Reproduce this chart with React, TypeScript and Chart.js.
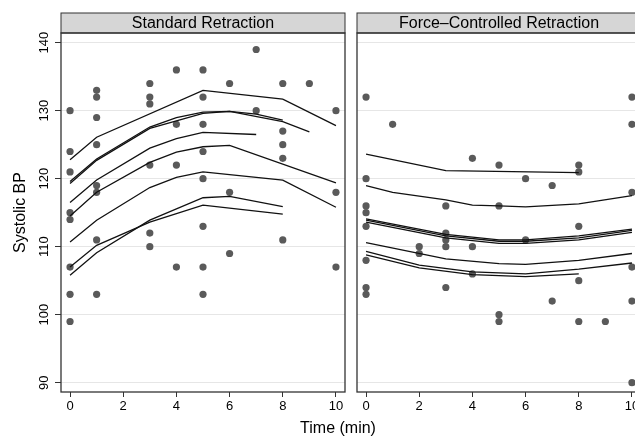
import React, { useEffect, useRef } from "react";
import { Chart, registerables } from "chart.js";
Chart.register(...registerables);

const panelTitles = ["Standard Retraction", "Force\u2013Controlled Retraction"];
const xTicks = [0, 2, 4, 6, 8, 10];
const yTicks = [90, 100, 110, 120, 130, 140];
const yTitle = "Systolic BP";
const xTitle = "Time (min)";

// Standard retraction observations
const stdTimes = [
  0, 0, 0, 0, 0, 0, 0, 0,
  1, 1, 1, 1, 1, 1, 1, 1,
  3, 3, 3, 3, 3, 3,
  4, 4, 4, 4,
  5, 5, 5, 5, 5, 5, 5, 5,
  6, 6, 6,
  7, 7,
  8, 8, 8, 8, 8,
  9,
  10, 10, 10,
];
const stdBP = [
  130, 124, 121, 115, 114, 107, 103, 99,
  133, 132, 129, 125, 119, 118, 111, 103,
  134, 132, 131, 122, 112, 110,
  136, 128, 122, 107,
  136, 132, 128, 124, 120, 113, 107, 103,
  134, 118, 109,
  139, 130,
  134, 127, 125, 123, 111,
  134,
  130, 118, 107,
];

// Force-controlled retraction observations
const fcTimes = [
  0, 0, 0, 0, 0, 0, 0, 0,
  1,
  2, 2,
  3, 3, 3, 3, 3,
  4, 4, 4,
  5, 5, 5, 5,
  6, 6,
  7, 7,
  8, 8, 8, 8, 8,
  9,
  10, 10, 10, 10, 10, 10,
];
const fcBP = [
  132, 120, 116, 115, 113, 108, 104, 103,
  128,
  110, 109,
  116, 112, 111, 110, 104,
  123, 110, 106,
  122, 116, 100, 99,
  120, 111,
  119, 102,
  122, 121, 113, 105, 99,
  99,
  132, 128, 118, 107, 102, 90,
];

// Fitted subject curves [time, BP]
const stdFit1 = [[0, 122.8], [1, 126.1], [5, 133.0], [8, 131.7], [10, 127.8]];
const stdFit2 = [[0, 119.6], [1, 122.9], [3, 127.6], [4, 129.0], [5, 129.8], [6, 129.9], [8, 128.4], [9, 126.9]];
const stdFit3 = [[0, 119.3], [1, 122.7], [3, 127.4], [5, 129.6], [6, 129.9], [7, 129.5], [8, 128.6]];
const stdFit4 = [[0, 116.5], [1, 119.8], [3, 124.5], [4, 125.9], [5, 126.8], [7, 126.5]];
const stdFit5 = [[0, 114.5], [1, 118.0], [3, 122.4], [4, 123.9], [5, 124.7], [6, 124.9], [10, 119.4]];
const stdFit6 = [[0, 110.7], [1, 113.9], [3, 118.7], [4, 120.2], [5, 121.0], [8, 119.8], [10, 115.8]];
const stdFit7 = [[0, 107.0], [1, 110.2], [3, 113.6], [5, 116.1], [8, 114.8]];
const stdFit8 = [[0, 105.8], [1, 109.1], [3, 113.9], [5, 117.2], [6, 117.4], [8, 115.9]];

const fcFit1 = [[0, 123.6], [3, 121.2], [8, 120.9]];
const fcFit2 = [[0, 119.0], [1, 118.0], [3, 116.9], [4, 116.1], [5, 116.0], [6, 115.85], [8, 116.3], [10, 117.5]];
const fcFit3 = [[0, 114.1], [3, 111.8], [5, 111.0], [6, 111.0], [8, 111.6], [10, 112.6]];
const fcFit4 = [[0, 113.9], [3, 111.6], [5, 110.8], [6, 110.8], [8, 111.3], [10, 112.4]];
const fcFit5 = [[0, 113.6], [3, 111.3], [5, 110.5], [6, 110.5], [8, 111.0], [10, 112.1]];
const fcFit6 = [[0, 110.6], [3, 108.2], [5, 107.5], [6, 107.4], [8, 108.0], [10, 109.0]];
const fcFit7 = [[0, 109.3], [2, 107.3], [4, 106.3], [6, 106.0], [8, 106.7], [10, 107.6]];
const fcFit8 = [[0, 108.8], [2, 106.9], [4, 105.9], [6, 105.6], [8, 106.0]];

const stdFits = [stdFit1, stdFit2, stdFit3, stdFit4, stdFit5, stdFit6, stdFit7, stdFit8];
const fcFits = [fcFit1, fcFit2, fcFit3, fcFit4, fcFit5, fcFit6, fcFit7, fcFit8];

const FONT = '"Liberation Sans", Arial, Helvetica, sans-serif';

const panelPlugin = {
  id: "panel",
  afterDraw(chart: any, _args: any, opts: any) {
    const { ctx, chartArea: a } = chart;
    ctx.save();
    // strip
    const stripTop = 13;
    ctx.fillStyle = "#d6d6d6";
    ctx.fillRect(a.left, stripTop, a.right - a.left, a.top - stripTop);
    ctx.strokeStyle = "#333";
    ctx.lineWidth = 1;
    ctx.strokeRect(a.left, stripTop, a.right - a.left, a.top - stripTop);
    ctx.fillStyle = "#000";
    ctx.font = `16px ${FONT}`;
    ctx.textAlign = "center";
    ctx.textBaseline = "alphabetic";
    ctx.fillText(opts.title, (a.left + a.right) / 2, a.top - 5);
    // frame
    ctx.lineWidth = 1.3;
    ctx.strokeStyle = "#333";
    ctx.strokeRect(a.left, a.top, a.right - a.left, a.bottom - a.top);
    if (opts.yLabels) {
      const ys = chart.scales.y;
      ctx.font = `13px ${FONT}`;
      ctx.fillStyle = "#000";
      for (const t of yTicks) {
        const py = ys.getPixelForValue(t);
        ctx.save();
        ctx.translate(a.left - 13, py);
        ctx.rotate(-Math.PI / 2);
        ctx.textAlign = "center";
        ctx.textBaseline = "alphabetic";
        ctx.fillText(String(t), 0, 0);
        ctx.restore();
      }
      ctx.save();
      ctx.font = `16px ${FONT}`;
      ctx.translate(25, (a.top + a.bottom) / 2);
      ctx.rotate(-Math.PI / 2);
      ctx.textAlign = "center";
      ctx.textBaseline = "alphabetic";
      ctx.fillText(yTitle, 0, 0);
      ctx.restore();
    }
    ctx.restore();
  },
};

function buildConfig(times: number[], bp: number[], fits: number[][][], title: string, isLeft: boolean) {
  const lineSets = fits.map((f) => ({
    type: "line",
    data: f.map(([x, y]) => ({ x, y })),
    borderColor: "#111",
    borderWidth: 1.3,
    pointRadius: 0,
    fill: false,
    tension: 0,
    showLine: true,
  }));
  const pts = {
    type: "scatter",
    data: times.map((t, i) => ({ x: t, y: bp[i] })),
    backgroundColor: "#5a5a5a",
    borderWidth: 0,
    pointRadius: 3.6,
    pointHoverRadius: 3.6,
  };
  return {
    type: "scatter",
    data: { datasets: [...lineSets, pts] },
    plugins: [panelPlugin],
    options: {
      animation: false,
      responsive: false,
      events: [],
      layout: { padding: { left: 0, right: isLeft ? 5 : 9, top: 33, bottom: 0 } },
      plugins: {
        legend: { display: false },
        tooltip: { enabled: false },
        panel: { title, yLabels: isLeft },
      },
      scales: {
        x: {
          type: "linear",
          min: -0.34,
          max: 10.34,
          afterBuildTicks: (s: any) => {
            s.ticks = xTicks.map((v) => ({ value: v }));
          },
          afterFit: (s: any) => {
            s.height = 44;
          },
          grid: { drawOnChartArea: false, drawTicks: true, tickLength: 5, tickColor: "#333", tickWidth: 1 },
          border: { display: false },
          ticks: { color: "#000", font: { family: FONT, size: 13 }, padding: 2, maxRotation: 0, autoSkip: false, callback: (v: any) => String(v) },
        },
        y: {
          type: "linear",
          min: 88.63,
          max: 141.43,
          afterBuildTicks: (s: any) => {
            s.ticks = yTicks.map((v) => ({ value: v }));
          },
          afterFit: (s: any) => {
            s.width = isLeft ? 61 : 17;
          },
          grid: { color: "#e6e6e6", lineWidth: 1, drawTicks: isLeft, tickLength: 6, tickColor: "#333", tickWidth: 1 },
          border: { display: false },
          ticks: { color: "rgba(0,0,0,0)", font: { family: FONT, size: 13 } },
        },
      },
    },
  };
}

function Panel({ left, width, times, bp, fits, title, isLeft }: any) {
  const ref = useRef<HTMLCanvasElement>(null);
  useEffect(() => {
    const chart = new Chart(ref.current as HTMLCanvasElement, buildConfig(times, bp, fits, title, isLeft) as any);
    return () => chart.destroy();
  }, []);
  return (
    <canvas
      ref={ref}
      width={width}
      height={436}
      style={{ position: "absolute", left, top: 0, width, height: 436 }}
    />
  );
}

export default function App() {
  return (
    <div
      style={{
        position: "fixed",
        left: 0,
        top: 0,
        width: 635,
        height: 436,
        overflow: "hidden",
        background: "#fff",
      }}
    >
      <Panel left={0} width={350} times={stdTimes} bp={stdBP} fits={stdFits} title={panelTitles[0]} isLeft={true} />
      <Panel left={340} width={310} times={fcTimes} bp={fcBP} fits={fcFits} title={panelTitles[1]} isLeft={false} />
      <div
        style={{
          position: "absolute",
          left: 238,
          width: 200,
          top: 419.5,
          textAlign: "center",
          font: `16px ${FONT}`,
          lineHeight: "16px",
          color: "#000",
          whiteSpace: "nowrap",
        }}
      >
        {xTitle}
      </div>
    </div>
  );
}
